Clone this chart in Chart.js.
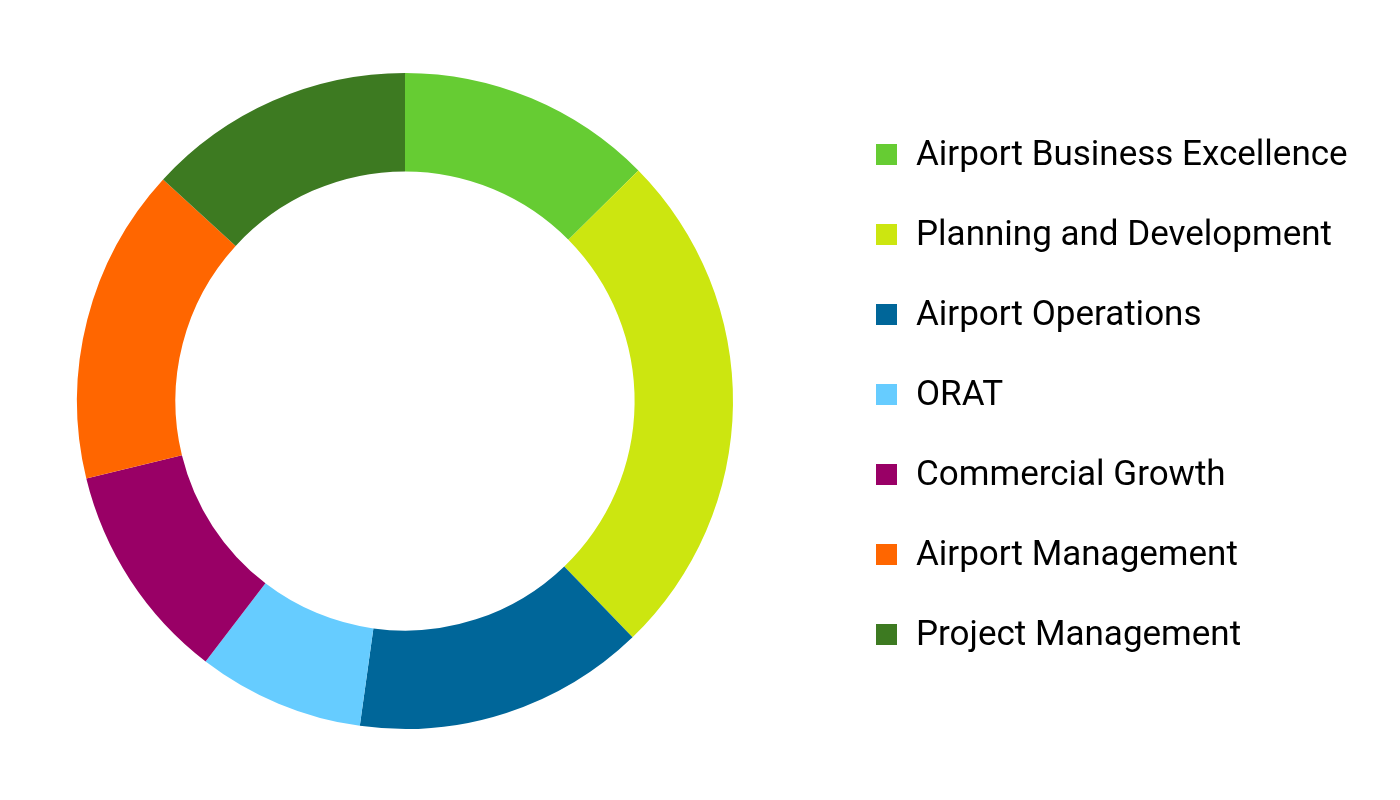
<!DOCTYPE html>
<html>
<head>
<meta charset="utf-8">
<script src="https://cdn.jsdelivr.net/npm/chart.js@4.4.1/dist/chart.umd.min.js"></script>
<style>
html,body{margin:0;padding:0;background:#fff;}
#wrap{position:absolute;left:0;top:0;width:1400px;height:800px;}
</style>
</head>
<body>
<div id="wrap"><canvas id="c" width="1400" height="800"></canvas></div>
<script>
const categories = ["Airport Business Excellence","Planning and Development","Airport Operations","ORAT","Commercial Growth","Airport Management","Project Management"];
const shares = [12.6, 25.2, 14.4, 8.2, 10.8, 15.6, 13.2];
const colors = ["#66CC33","#CCE610","#006699","#66CCFF","#990066","#FF6600","#3D7A21"];

const legendPlugin = {
  id: 'sideLegend',
  afterDraw(chart) {
    const ctx = chart.ctx;
    const ds = chart.data.datasets[0];
    ctx.save();
    ctx.font = '35px Roboto';
    ctx.textBaseline = 'alphabetic';
    ctx.textAlign = 'left';
    chart.data.labels.forEach((lab, i) => {
      const cy = 154.5 + i * 80;
      ctx.fillStyle = ds.backgroundColor[i];
      ctx.fillRect(876, cy - 10.5, 21, 21);
      ctx.fillStyle = '#000';
      ctx.fillText(lab, 916, cy + 10.5);
    });
    ctx.restore();
  }
};

new Chart(document.getElementById('c'), {
  type: 'doughnut',
  data: {
    labels: categories,
    datasets: [{
      data: shares,
      backgroundColor: colors,
      borderWidth: 0,
      hoverOffset: 0
    }]
  },
  options: {
    responsive: false,
    animation: false,
    cutout: '70%',
    layout: { padding: { left: 0, right: 590, top: 73, bottom: 71 } },
    plugins: {
      legend: { display: false },
      tooltip: { enabled: false }
    }
  },
  plugins: [legendPlugin]
});
</script>
</body>
</html>
